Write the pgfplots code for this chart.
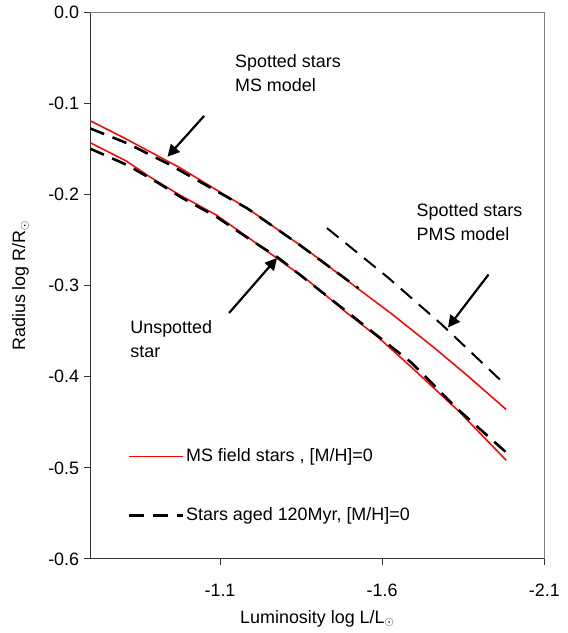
\documentclass[border=0pt]{standalone}
\usepackage{fontspec}
\setmainfont{Liberation Sans}
\usepackage{pgfplots}
\usepackage{pgfplotstable}
\usetikzlibrary{arrows.meta}
\pgfplotsset{compat=1.18}
\definecolor{msred}{RGB}{255,0,0}
\pgfplotstableread{
x y
-0.700 -0.1191
-0.8106 -0.1391
-0.9741 -0.1702
-1.0971 -0.1967
-1.1893 -0.2164
-1.3736 -0.2623
-1.5271 -0.3038
-1.6294 -0.3311
-1.7627 -0.3689
-1.8650 -0.3995
-1.9826 -0.4361
}\redupper
\pgfplotstableread{
x y
-0.700 -0.1432
-0.8106 -0.1632
-0.8821 -0.1803
-0.9743 -0.2003
-1.0870 -0.2222
-1.1893 -0.2478
-1.2713 -0.2689
-1.3736 -0.2951
-1.4964 -0.3315
-1.5885 -0.3570
-1.6908 -0.3898
-1.8342 -0.4372
-1.9826 -0.4918
}\redlower
\pgfplotstableread{
x y
-0.700 -0.1275
-0.8146 -0.1439
-0.9374 -0.1658
-1.1831 -0.2150
-1.3428 -0.2546
-1.5271 -0.3030
}\dashupper
\pgfplotstableread{
x y
-0.700 -0.1497
-0.8146 -0.1678
-0.9128 -0.1880
-0.9844 -0.2040
-1.0870 -0.2240
-1.1893 -0.2486
-1.2814 -0.2699
-1.4964 -0.3301
-1.6908 -0.3847
-1.8342 -0.4361
-1.9826 -0.4831
}\dashlower
\pgfplotstableread{
x y
-1.4297 -0.2368
-1.6192 -0.2915
-1.7829 -0.3424
-1.9826 -0.4098
}\dashpms
\begin{document}
\fontsize{18bp}{21.6bp}\selectfont
\begin{tikzpicture}
\begin{axis}[
  at={(0,0)}, anchor=south west,
  scale only axis, width=456bp, height=549bp,
  x dir=reverse,
  xmin=-2.1, xmax=-0.7, ymin=-0.6, ymax=0,
  xtick={-2.1,-1.6,-1.1},
  ytick={-0.6,-0.5,-0.4,-0.3,-0.2,-0.1,0},
  axis x line*=bottom, axis y line*=left,
  axis line style={black!80, line width=1bp},
  tick align=outside, major tick length=6bp,
  tick style={black!80, line width=1bp},
  /pgf/number format/.cd, fixed, fixed zerofill, precision=1, assume math mode=true,
  /pgfplots/.cd,
  tick label style={font=\fontsize{18bp}{21.6bp}\selectfont},
  label style={font=\fontsize{18bp}{21.6bp}\selectfont},
  xticklabel style={yshift=-13bp},
  yticklabel style={xshift=1bp},
  xlabel={Luminosity log L/L$_\odot$},
  ylabel={Radius log R/R$_\odot$},
  xlabel style={at={([yshift=-60bp]axis description cs:0.5,0)}, anchor=center},
  ylabel style={at={([xshift=-70bp]axis description cs:0,0.5)}, anchor=center},
  legend style={at={(axis cs:-0.815,-0.479)}, anchor=north west, draw=none, fill=none,
    inner sep=0pt, row sep=43bp, font=\fontsize{18bp}{21.6bp}\selectfont,
    nodes={inner xsep=2bp, inner ysep=0pt}},
  legend cell align=left,
  legend image code/.code={\draw[#1] (0bp,0bp) -- (54bp,0bp);},
  clip=false,
]
\addplot[msred, line width=1.5bp] table {\redupper};
\addlegendentry{MS field stars , [M/H]=0}
\addplot[msred, line width=1.5bp, forget plot] table {\redlower};
\addplot[black, line width=2.6bp, dash pattern=on 15bp off 9bp] table {\dashupper};
\addlegendentry{Stars aged 120Myr, [M/H]=0}
\addplot[black, line width=2.6bp, dash pattern=on 15bp off 9bp, forget plot] table {\dashlower};
\addplot[black, line width=2bp, dash pattern=on 15bp off 9bp, forget plot] table {\dashpms};
\draw[black!50, line width=1bp] (rel axis cs:0,1) -- (rel axis cs:1,1) -- (rel axis cs:1,0);
% annotations
\draw[-{Triangle[width=12bp,length=12bp]}, line width=2.2bp] (axis cs:-1.051,-0.1137) -- (axis cs:-0.938,-0.1585);
\draw[-{Triangle[width=12bp,length=12bp]}, line width=2.2bp] (axis cs:-1.128,-0.330) -- (axis cs:-1.276,-0.2696);
\draw[-{Triangle[width=12bp,length=12bp]}, line width=2.2bp] (axis cs:-1.928,-0.2878) -- (axis cs:-1.803,-0.346);
\node[anchor=base west, inner sep=0pt] at (axis cs:-1.146,-0.0601) {Spotted stars};
\node[anchor=base west, inner sep=0pt] at (axis cs:-1.146,-0.0867) {MS model};
\node[anchor=base west, inner sep=0pt] at (axis cs:-1.706,-0.224) {Spotted stars};
\node[anchor=base west, inner sep=0pt] at (axis cs:-1.706,-0.2507) {PMS model};
\node[anchor=base west, inner sep=0pt] at (axis cs:-0.823,-0.3523) {Unspotted};
\node[anchor=base west, inner sep=0pt] at (axis cs:-0.823,-0.3790) {star};
\end{axis}
\path[use as bounding box] (-90.7bp,-74bp) rectangle (479.3bp,559bp);
\end{tikzpicture}
\end{document}
